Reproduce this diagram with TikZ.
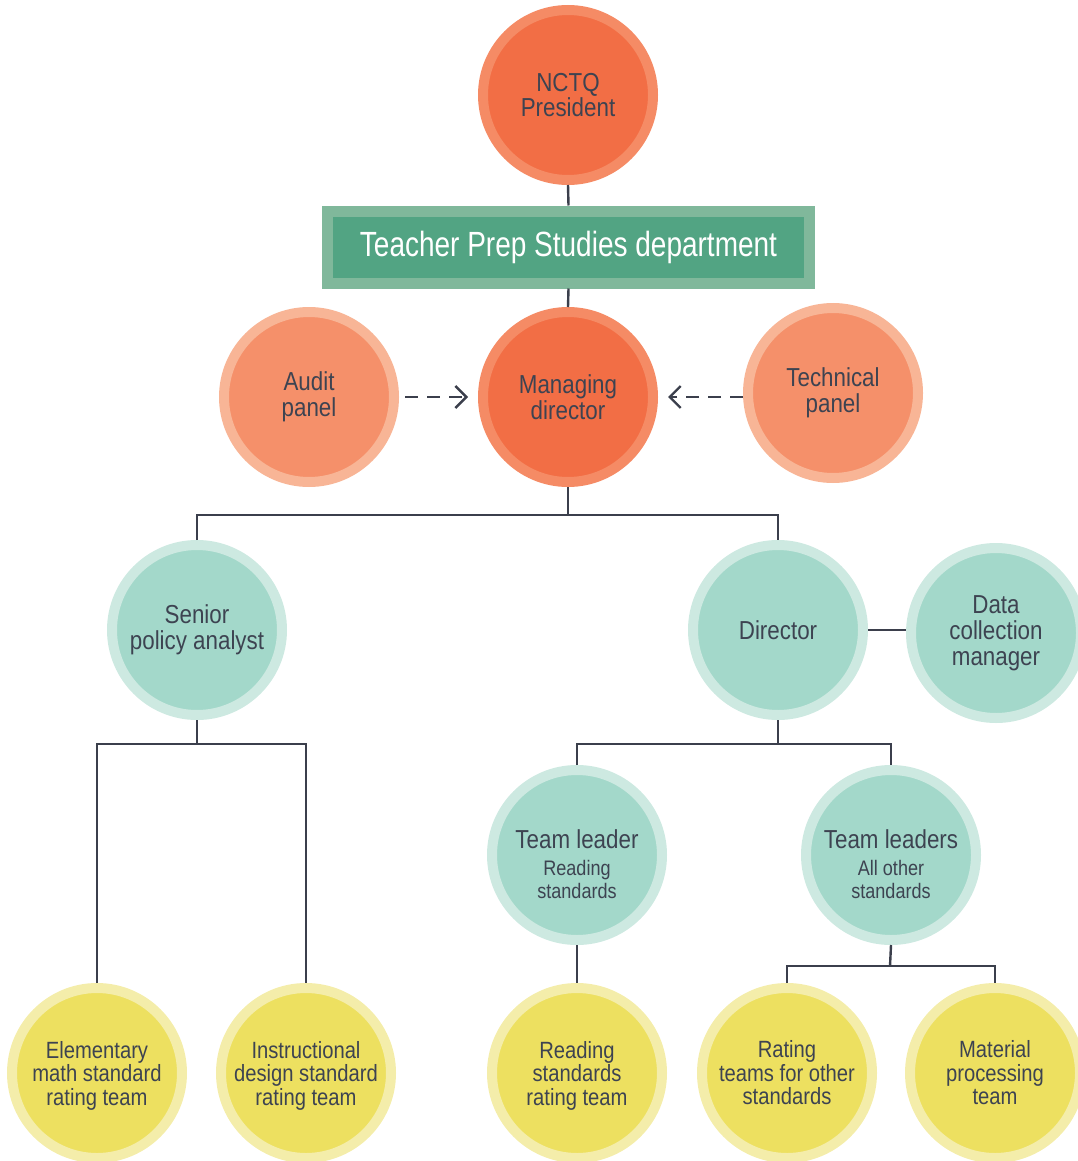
\documentclass[tikz,border=0pt]{standalone}
\usepackage{fontspec}
\setmainfont{Liberation Sans}[FakeStretch=0.86]
\newfontfamily\titlefont{Liberation Sans}[FakeStretch=0.8]
\usetikzlibrary{arrows.meta}
\definecolor{txt}{HTML}{3D4351}
\definecolor{linec}{HTML}{3B3F4C}
\definecolor{orAf}{HTML}{F26E45}
\definecolor{orAr}{HTML}{F58B65}
\definecolor{orBf}{HTML}{F5906A}
\definecolor{orBr}{HTML}{F8B596}
\definecolor{tealf}{HTML}{A3D8CA}
\definecolor{tealr}{HTML}{CDE9E1}
\definecolor{yelf}{HTML}{EDE060}
\definecolor{yelr}{HTML}{F4EDAA}
\definecolor{grf}{HTML}{52A483}
\definecolor{grr}{HTML}{80B89B}
\newcommand{\subtxt}[1]{{\fontsize{21}{22}\selectfont #1}}
\newcommand{\lowerby}{\rule{0pt}{38pt}}
\tikzset{
  bubble/.style={circle, minimum size=170pt, inner sep=0pt, line width=10pt,
    text=txt, align=center, font=\fontsize{26}{25.5}\selectfont},
  orangeA/.style={bubble, fill=orAf, draw=orAr},
  orangeB/.style={bubble, fill=orBf, draw=orBr},
  tealc/.style={bubble, fill=tealf, draw=tealr},
  yelc/.style={bubble, fill=yelf, draw=yelr, font=\fontsize{23.5}{23.5}\selectfont},
  conn/.style={draw=linec, line width=2.4pt},
  dasharrow/.style={draw=linec, line width=2.4pt, dash pattern=on 13pt off 9pt,
    -{Straight Barb[length=11pt,width=22pt,line width=2.4pt]}}
}
\begin{document}
\begin{tikzpicture}[x=1pt,y=-1pt]
\useasboundingbox (0,0) rectangle (1078,1161);
\clip (0,0) rectangle (1078,1161);
% nodes
\node[orangeA] (pres) at (568,95) {NCTQ\\President};
\node[draw=grr, fill=grf, line width=11pt, minimum width=482pt, minimum height=72pt,
  inner sep=0pt, text=white, font=\titlefont\fontsize{35}{36}\selectfont] (dept) at (568.5,247) {\rule{0pt}{26pt}Teacher Prep Studies department};
\node[orangeB] (audit) at (309,397) {Audit\\panel};
\node[orangeA] (md) at (568,397) {Managing\\director};
\node[orangeB] (tech) at (833,393) {Technical\\panel};
\node[tealc] (spa) at (197,630) {Senior\\policy analyst};
\node[tealc] (dir) at (778,630) {Director};
\node[tealc, font=\fontsize{26}{26}\selectfont] (data) at (996,633) {Data\\collection\\manager};
\node[tealc] (tlr) at (577,855) {\lowerby Team leader\\[1pt]\subtxt{Reading}\\[-2pt]\subtxt{standards}};
\node[tealc] (tlo) at (891,855) {\lowerby Team leaders\\[1pt]\subtxt{All other}\\[-2pt]\subtxt{standards}};
\node[yelc] (elem) at (97,1073) {Elementary\\math standard\\\smash{rating team}};
\node[yelc] (instr) at (306,1073) {Instructional\\design standard\\\smash{rating team}};
\node[yelc] (read) at (577,1073) {Reading\\standards\\\smash{rating team}};
\node[yelc] (rate) at (787,1073) {Rating\\teams for other\\standards};
\node[yelc] (mat) at (995,1073) {Material\\processing\\team};
% bus coordinates
\coordinate (busA) at (568,515);
\coordinate (busB) at (197,744);
\coordinate (busC) at (778,744);
\coordinate (busD) at (890,966);
% connectors
\draw[conn] (pres.south) -- (dept.north);
\draw[conn] (dept.south) -- (md.north);
\draw[dasharrow, shorten <=6pt, shorten >=10pt] (audit) -- (md);
\draw[dasharrow, shorten >=10pt] (tech.west |- md.center) -- (md.east);
\draw[conn] (md.south) -- (busA);
\draw[conn] (spa.north) |- (busA) -| (dir.north);
\draw[conn] (dir.east) -- (data.west |- dir.east);
\draw[conn] (spa.south) -- (busB);
\draw[conn] (elem.north) |- (busB) -| (instr.north);
\draw[conn] (dir.south) -- (busC);
\draw[conn] (tlr.north) |- (busC) -| (tlo.north);
\draw[conn] (tlr) -- (read);
\draw[conn] (tlo.south) -- (busD);
\draw[conn] (rate.north) |- (busD) -| (mat.north);
\end{tikzpicture}
\end{document}
